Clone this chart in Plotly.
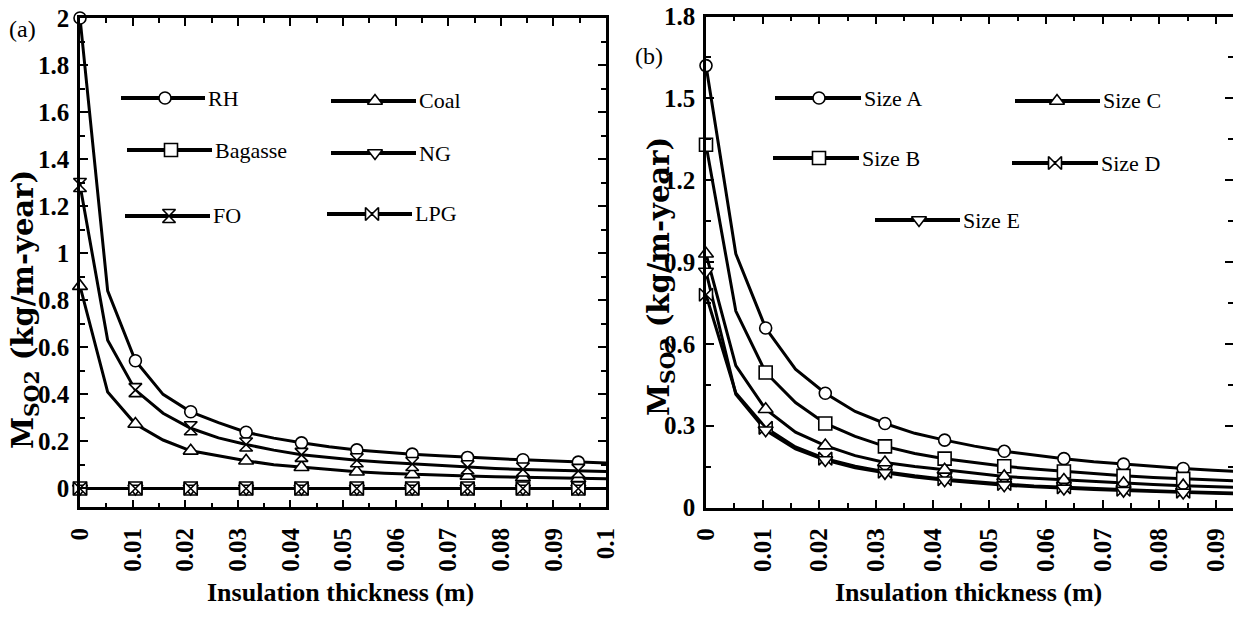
import plotly.graph_objects as go

# ---------------- data ----------------
# insulation thickness grid (m)
x_thick = [0.0, 0.00526, 0.01053, 0.01579, 0.02105, 0.02632, 0.03158, 0.03684, 0.04211, 0.04737,
           0.05263, 0.05789, 0.06316, 0.06842, 0.07368, 0.07895, 0.08421, 0.08947, 0.09474, 0.1]

# panel (a): fuels
fuel_names = ["RH", "Coal", "Bagasse", "NG", "FO", "LPG"]
rh      = [2.00, 0.84, 0.543, 0.400, 0.326, 0.280, 0.239, 0.214, 0.194, 0.177,
           0.164, 0.154, 0.146, 0.139, 0.132, 0.127, 0.122, 0.117, 0.112, 0.108]
coal    = [0.86, 0.41, 0.274, 0.206, 0.160, 0.138, 0.118, 0.101, 0.090, 0.080,
           0.071, 0.065, 0.060, 0.056, 0.053, 0.050, 0.047, 0.045, 0.043, 0.041]
bagasse = [0.0, 0.0, 0.0, 0.0, 0.0, 0.0, 0.0, 0.0, 0.0, 0.0,
           0.0, 0.0, 0.0, 0.0, 0.0, 0.0, 0.0, 0.0, 0.0, 0.0]
ng      = [0.0, 0.0, 0.0, 0.0, 0.0, 0.0, 0.0, 0.0, 0.0, 0.0,
           0.0, 0.0, 0.0, 0.0, 0.0, 0.0, 0.0, 0.0, 0.0, 0.0]
fo      = [1.29, 0.63, 0.418, 0.320, 0.256, 0.215, 0.187, 0.163, 0.143, 0.130,
           0.120, 0.111, 0.104, 0.097, 0.090, 0.085, 0.081, 0.078, 0.075, 0.072]
lpg     = [0.0, 0.0, 0.0, 0.0, 0.0, 0.0, 0.0, 0.0, 0.0, 0.0,
           0.0, 0.0, 0.0, 0.0, 0.0, 0.0, 0.0, 0.0, 0.0, 0.0]

# panel (b): pipe sizes
size_names = ["Size A", "Size C", "Size B", "Size D", "Size E"]
size_a = [1.62, 0.93, 0.658, 0.507, 0.419, 0.352, 0.308, 0.272, 0.247, 0.225,
          0.206, 0.192, 0.179, 0.168, 0.159, 0.150, 0.143, 0.137, 0.131, 0.125]
size_b = [1.33, 0.72, 0.495, 0.385, 0.308, 0.261, 0.224, 0.198, 0.179, 0.164,
          0.151, 0.141, 0.132, 0.123, 0.116, 0.110, 0.105, 0.100, 0.096, 0.092]
size_c = [0.93, 0.52, 0.360, 0.276, 0.227, 0.190, 0.165, 0.150, 0.138, 0.125,
          0.114, 0.107, 0.101, 0.095, 0.089, 0.084, 0.080, 0.076, 0.073, 0.070]
size_d = [0.78, 0.42, 0.292, 0.222, 0.179, 0.151, 0.131, 0.116, 0.104, 0.094,
          0.086, 0.079, 0.074, 0.069, 0.065, 0.061, 0.058, 0.055, 0.052, 0.050]
size_e = [0.865, 0.415, 0.283, 0.215, 0.174, 0.146, 0.127, 0.112, 0.100, 0.090,
          0.082, 0.076, 0.070, 0.066, 0.062, 0.058, 0.055, 0.052, 0.050, 0.048]

x_tick_a = [0, 0.01, 0.02, 0.03, 0.04, 0.05, 0.06, 0.07, 0.08, 0.09, 0.1]
x_tick_b = [0, 0.01, 0.02, 0.03, 0.04, 0.05, 0.06, 0.07, 0.08, 0.09]

# ---------------- styling ----------------
W, H = 1233, 617
SERIF = "Liberation Serif"
BLACK = "black"


def fx(px):
    """window pixel x -> paper fraction"""
    return px / W


def fy(py):
    """window pixel y -> paper fraction"""
    return 1 - py / H


series_a = [
    ("RH", rh, "circle", 12),
    ("Coal", coal, "triangle-up", 13),
    ("Bagasse", bagasse, "square", 13),
    ("NG", ng, "triangle-down", 13),
    ("FO", fo, "hourglass", 13),
    ("LPG", lpg, "bowtie", 13),
]
series_b = [
    ("Size A", size_a, "circle", 12),
    ("Size B", size_b, "square", 13),
    ("Size C", size_c, "triangle-up", 13),
    ("Size D", size_d, "bowtie", 13),
    ("Size E", size_e, "triangle-down", 13),
]

fig = go.Figure()


def add_panel(series, xa, ya):
    # lines first
    for name, ys, sym, sz in series:
        fig.add_trace(go.Scatter(x=x_thick, y=ys, mode="lines", name=name,
                                 line=dict(color=BLACK, width=3),
                                 xaxis=xa, yaxis=ya, showlegend=False,
                                 hoverinfo="skip"))
    # markers on every second point
    for name, ys, sym, sz in series:
        fig.add_trace(go.Scatter(x=x_thick[::2], y=ys[::2], mode="markers", name=name,
                                 marker=dict(symbol=sym, size=sz, color="white",
                                             line=dict(color=BLACK, width=1.6)),
                                 xaxis=xa, yaxis=ya, showlegend=False, cliponaxis=False))


add_panel(series_a, "x", "y")
add_panel(series_b, "x2", "y2")

# ---------------- in-plot legends (window-pixel layout) ----------------
legend_items = [
    # name, symbol, size, line x0, x1, marker x, y
    ("RH", "circle", 12, 121, 205, 165, 98),
    ("Coal", "triangle-up", 13, 331, 416, 375, 101),
    ("Bagasse", "square", 13, 127, 212, 171, 150),
    ("NG", "triangle-down", 13, 331, 416, 375, 153),
    ("FO", "hourglass", 13, 125, 210, 169, 216),
    ("LPG", "bowtie", 13, 327, 412, 372, 214),
    ("Size A", "circle", 12, 775, 861, 819, 98),
    ("Size B", "square", 13, 773, 859, 819, 158),
    ("Size C", "triangle-up", 13, 1015, 1100, 1057, 101),
    ("Size D", "bowtie", 13, 1012, 1098, 1055, 163),
    ("Size E", "triangle-down", 13, 875, 960, 919, 220),
]
for name, sym, sz, lx0, lx1, mx, ly in legend_items:
    fig.add_trace(go.Scatter(x=[lx0, lx1], y=[ly, ly], mode="lines",
                             line=dict(color=BLACK, width=4), xaxis="x3", yaxis="y3",
                             showlegend=False, hoverinfo="skip"))
    fig.add_trace(go.Scatter(x=[mx], y=[ly], mode="markers",
                             marker=dict(symbol=sym, size=sz, color="white",
                                         line=dict(color=BLACK, width=1.6)),
                             xaxis="x3", yaxis="y3", showlegend=False, hoverinfo="skip"))
    fig.add_annotation(text=name, xref="paper", yref="paper", x=fx(lx1 + 1), y=fy(ly),
                       xanchor="left", yanchor="middle", showarrow=False,
                       font=dict(family=SERIF, size=22, color=BLACK))

# ---------------- axes ----------------
tickfont = dict(family=SERIF, size=25, color=BLACK, weight="bold")


def xaxis_cfg(domain, rng, anchor, tickvals):
    return dict(domain=domain, range=rng, anchor=anchor, tickmode="array", tickvals=tickvals,
                ticks="inside", ticklen=8, tickwidth=2, tickcolor=BLACK,
                minor=dict(dtick=0.005, tick0=0, ticks="inside", ticklen=5, tickwidth=1.5,
                           tickcolor=BLACK),
                showline=True, linewidth=2.5, linecolor=BLACK, mirror="ticks",
                showgrid=False, zeroline=False, tickangle=-90, tickfont=tickfont,
                ticklabelstandoff=8, automargin=False, ticklabeloverflow="allow")


def yaxis_cfg(domain, rng, anchor, dtick, mdtick):
    return dict(domain=domain, range=rng, anchor=anchor, tick0=0, dtick=dtick,
                ticks="inside", ticklen=8, tickwidth=2, tickcolor=BLACK,
                minor=dict(dtick=mdtick, tick0=0, ticks="inside", ticklen=5, tickwidth=1.5,
                           tickcolor=BLACK),
                showline=True, linewidth=2.5, linecolor=BLACK, mirror="ticks",
                showgrid=False, zeroline=False, tickfont=tickfont, ticklabelstandoff=3,
                automargin=False, ticklabeloverflow="allow")


fig.update_layout(
    width=W, height=H,
    margin=dict(l=0, r=0, t=0, b=0, autoexpand=False),
    paper_bgcolor="white", plot_bgcolor="rgba(0,0,0,0)",
    showlegend=False,
    xaxis=xaxis_cfg([fx(80), fx(606)], [0, 0.1], "y", x_tick_a),
    yaxis=yaxis_cfg([fy(507.3), fy(18)], [-0.08, 2.0], "x", 0.2, 0.1),
    xaxis2=xaxis_cfg([fx(706), 1.0], [0, 0.093], "y2", x_tick_b),
    yaxis2=yaxis_cfg([fy(507.5), fy(16.5)], [0, 1.8], "x2", 0.3, 0.15),
    xaxis3=dict(domain=[0, 1], range=[0, W], anchor="y3", visible=False,
                fixedrange=True, automargin=False),
    yaxis3=dict(domain=[0, 1], range=[H, 0], anchor="x3", visible=False,
                fixedrange=True, automargin=False),
)

# axis titles and panel labels
title_font = dict(family=SERIF, size=26, color=BLACK, weight="bold")
fig.add_annotation(text="Insulation thickness (m)", xref="paper", yref="paper",
                   x=fx(340), y=fy(592), showarrow=False, font=title_font,
                   xanchor="center", yanchor="middle")
fig.add_annotation(text="Insulation thickness (m)", xref="paper", yref="paper",
                   x=fx(968), y=fy(592), showarrow=False, font=title_font,
                   xanchor="center", yanchor="middle")
ytitle_font = dict(family="DejaVu Serif", size=29, color=BLACK, weight="bold")
fig.add_annotation(text="M<sub>SO2</sub> (kg/m-year)", xref="paper", yref="paper",
                   x=fx(25), y=fy(310), textangle=-90, showarrow=False, font=ytitle_font,
                   xanchor="center", yanchor="middle")
fig.add_annotation(text="M<sub>SO2</sub> (kg/m-year)", xref="paper", yref="paper",
                   x=fx(661), y=fy(277), textangle=-90, showarrow=False, font=ytitle_font,
                   xanchor="center", yanchor="middle")
fig.add_annotation(text="(a)", xref="paper", yref="paper", x=fx(7), y=fy(29),
                   xanchor="left", yanchor="middle", showarrow=False,
                   font=dict(family=SERIF, size=24, color=BLACK))
fig.add_annotation(text="(b)", xref="paper", yref="paper", x=fx(633), y=fy(56),
                   xanchor="left", yanchor="middle", showarrow=False,
                   font=dict(family=SERIF, size=24, color=BLACK))

# the page's default 8px body margin would push the figure off the window; remove it
fig.write_html("out.html",
               config={"displayModeBar": False},
               post_script="document.body.style.margin='0';document.body.style.overflow='hidden';")
